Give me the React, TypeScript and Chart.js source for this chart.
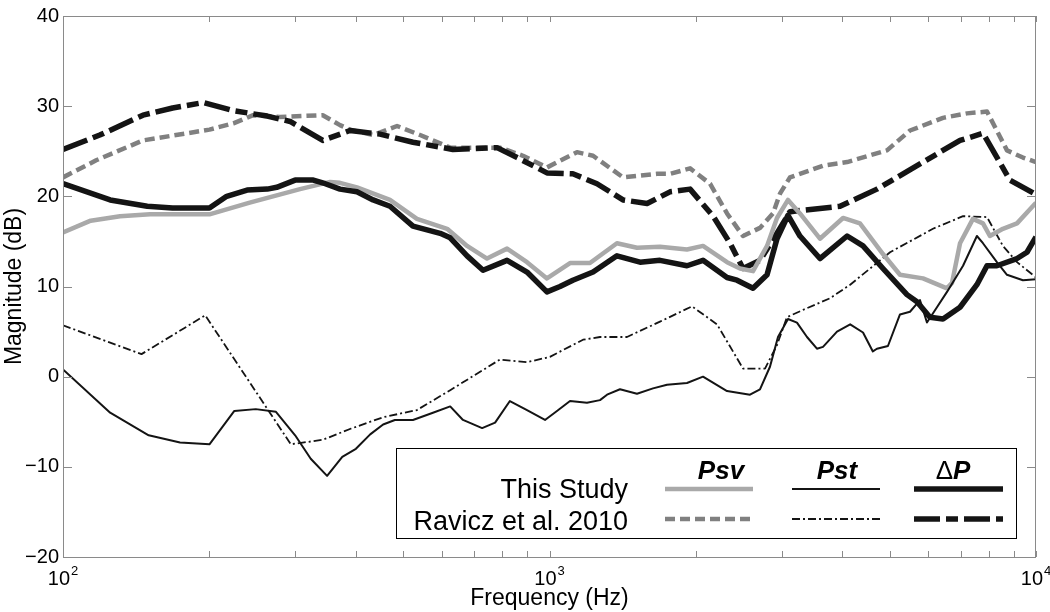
import { useEffect, useRef } from 'react';
import { Chart, registerables } from 'chart.js';

Chart.register(...registerables);

const FONT = "'Liberation Sans', Arial, Helvetica, sans-serif";

// ---- This Study ----
const psvFreq = [100, 114, 131, 151, 200, 242, 307, 354, 371, 402, 470, 534, 616, 677, 744, 818, 899, 988, 1102, 1211, 1376, 1513, 1687, 1917, 2068, 2317, 2464, 2620, 2800, 2935, 3092, 3272, 3597, 4012, 4346, 4847, 5253, 5858, 6562, 6720, 6980, 7420, 7780, 8040, 8550, 9140, 10000];
const psvVal = [16.0, 17.3, 17.8, 18.0, 18.0, 19.3, 20.8, 21.6, 21.5, 21.0, 19.6, 17.5, 16.4, 14.5, 13.1, 14.2, 12.7, 10.9, 12.6, 12.6, 14.8, 14.3, 14.4, 14.1, 14.5, 12.7, 12.0, 11.7, 14.5, 17.6, 19.6, 18.1, 15.3, 17.6, 17.0, 13.6, 11.3, 10.9, 9.8, 10.4, 14.8, 17.5, 17.0, 15.6, 16.4, 17.0, 19.3];

const pstFreq = [100, 125, 150, 174, 200, 225, 249, 274, 300, 323, 349, 375, 400, 428, 455, 481, 524, 576, 625, 664, 727, 773, 829, 899, 979, 1036, 1102, 1194, 1270, 1313, 1396, 1513, 1632, 1744, 1917, 2068, 2317, 2583, 2708, 2839, 2949, 3092, 3226, 3383, 3546, 3649, 3899, 4150, 4410, 4620, 4710, 4962, 5253, 5508, 5774, 5968, 6258, 6562, 7080, 7560, 7780, 8310, 8717, 9400, 10000];
const pstVal = [0.8, -4.0, -6.5, -7.3, -7.5, -3.8, -3.6, -3.9, -6.5, -9.1, -11.0, -8.9, -8.0, -6.4, -5.3, -4.8, -4.8, -4.0, -3.3, -4.8, -5.7, -5.1, -2.7, -3.7, -4.8, -3.8, -2.7, -2.9, -2.6, -2.0, -1.4, -1.9, -1.3, -0.9, -0.7, 0.0, -1.6, -2.0, -1.4, 1.1, 4.4, 6.4, 6.0, 4.4, 3.1, 3.3, 5.0, 5.8, 4.9, 2.8, 3.1, 3.4, 6.9, 7.2, 8.5, 6.0, 7.7, 9.4, 12.3, 15.6, 14.8, 12.7, 11.3, 10.7, 10.8];

const dpFreq = [100, 125, 149, 168, 200, 217, 239, 263, 275, 300, 327, 346, 371, 402, 434, 470, 524, 596, 625, 677, 730, 818, 899, 988, 1051, 1117, 1229, 1376, 1535, 1687, 1917, 2068, 2317, 2429, 2620, 2800, 2935, 3092, 3272, 3597, 4090, 4410, 4847, 5430, 5693, 6054, 6439, 6980, 7560, 7930, 8310, 9140, 9583, 10000];
const dpVal = [21.4, 19.6, 18.9, 18.7, 18.7, 20.0, 20.7, 20.8, 21.0, 21.8, 21.8, 21.4, 20.8, 20.5, 19.6, 18.9, 16.7, 15.9, 15.4, 13.4, 11.8, 12.9, 11.6, 9.4, 10.0, 10.7, 11.6, 13.4, 12.7, 12.9, 12.3, 12.9, 11.0, 10.7, 9.8, 11.3, 15.3, 17.9, 15.6, 13.1, 15.6, 14.5, 12.0, 9.1, 8.3, 6.6, 6.4, 7.7, 10.2, 12.3, 12.3, 13.1, 13.8, 15.5];

// ---- Ravicz et al. 2010 ----
const rPsvFreq = [100, 117, 146, 200, 224, 246, 279, 342, 371, 389, 434, 486, 542, 625, 791, 882, 988, 1139, 1229, 1416, 1663, 1769, 1945, 2138, 2317, 2499, 2708, 2880, 2977, 3121, 3649, 4090, 4940, 5508, 6439, 7212, 7930, 8717, 9400, 10000];
const rPsvVal = [22.1, 24.0, 26.2, 27.4, 28.1, 29.0, 28.8, 29.0, 27.9, 27.4, 26.8, 27.8, 26.8, 25.4, 25.4, 24.5, 23.2, 24.9, 24.5, 22.1, 22.5, 22.5, 23.1, 21.4, 18.1, 15.6, 16.5, 18.1, 20.3, 22.1, 23.4, 23.8, 25.1, 27.3, 28.7, 29.2, 29.4, 25.1, 24.3, 23.8];

const rPstFreq = [100, 145, 196, 294, 342, 389, 455, 534, 625, 791, 899, 1002, 1172, 1270, 1443, 1687, 1963, 2210, 2499, 2773, 2935, 3077, 3383, 3773, 4150, 5012, 6140, 7080, 7930, 8550, 9140, 10000];
const rPstVal = [5.7, 2.5, 6.8, -7.5, -7.0, -5.8, -4.5, -3.7, -1.5, 1.9, 1.6, 2.2, 4.1, 4.4, 4.4, 6.1, 7.8, 5.8, 0.9, 0.9, 3.5, 6.6, 7.6, 8.7, 10.2, 13.8, 16.4, 17.8, 17.7, 14.5, 12.7, 11.0];

const rDpFreq = [100, 119, 146, 168, 194, 224, 263, 293, 342, 389, 448, 524, 633, 780, 858, 988, 1117, 1252, 1416, 1587, 1769, 1945, 2169, 2350, 2499, 2708, 2935, 3121, 3955, 4710, 5774, 6980, 7780, 8840, 10000];
const rDpVal = [25.2, 26.8, 29.0, 29.8, 30.4, 29.5, 28.9, 28.3, 26.2, 27.3, 26.9, 26.0, 25.2, 25.4, 24.3, 22.6, 22.5, 21.4, 19.6, 19.2, 20.5, 20.8, 17.8, 14.8, 12.0, 12.9, 15.9, 18.3, 18.9, 20.8, 23.6, 26.2, 27.0, 21.8, 20.2];

// ---- axes / legend text ----
const xMajorTicks = [100, 1000, 10000];
const xMajorExponents = ['2', '3', '4'];
const yTickValues = [-20, -10, 0, 10, 20, 30, 40];
const xTitle = 'Frequency (Hz)';
const yTitle = 'Magnitude (dB)';
const legendRows = ['This Study', 'Ravicz et al. 2010'];
const legendCols = ['Psv', 'Pst', 'ΔP'];

const LIGHT_GRAY = '#a9a9a9';
const MID_GRAY = '#808080';
const BLACK = '#141414';

const styles = {
  psv: { color: LIGHT_GRAY, width: 4.5, dash: [] as number[] },
  pst: { color: BLACK, width: 2, dash: [] as number[] },
  dp: { color: BLACK, width: 5.5, dash: [] as number[] },
  rPsv: { color: MID_GRAY, width: 4.5, dash: [10, 5] },
  rPst: { color: BLACK, width: 1.8, dash: [8, 3, 2, 3] },
  rDp: { color: BLACK, width: 5.5, dash: [26, 6, 12, 6] },
};

export default function App() {
  const ref = useRef<HTMLCanvasElement>(null);

  useEffect(() => {
    document.body.style.margin = '0';
    const canvas = ref.current!;
    const toPts = (f: number[], v: number[]) => f.map((x, i) => ({ x, y: v[i] }));
    const ds = (f: number[], v: number[], s: any) => ({
      data: toPts(f, v),
      borderColor: s.color,
      borderWidth: s.width,
      borderDash: s.dash,
      pointRadius: 0,
      fill: false,
      tension: 0,
      borderCapStyle: 'butt',
      borderJoinStyle: 'round',
    });

    const framePlugin = {
      id: 'frame',
      afterDraw(chart: any) {
        const { ctx, chartArea: a, scales } = chart;
        const xs = scales.x;
        const ys = scales.y;
        ctx.save();
        // box
        ctx.strokeStyle = '#8a8a8a';
        ctx.lineWidth = 1;
        ctx.setLineDash([]);
        ctx.strokeRect(a.left + 0.5, a.top + 0.5, a.right - a.left - 1, a.bottom - a.top);
        // x ticks (major and minor), inward on bottom and top
        const xt: number[] = [];
        for (const dec of [100, 1000]) for (let m = 1; m <= 9; m++) xt.push(dec * m);
        xt.push(10000);
        ctx.beginPath();
        for (const v of xt) {
          const px = Math.round(xs.getPixelForValue(v)) + 0.5;
          ctx.moveTo(px, a.bottom);
          ctx.lineTo(px, a.bottom - 6);
          ctx.moveTo(px, a.top);
          ctx.lineTo(px, a.top + 6);
        }
        for (const v of yTickValues) {
          const py = Math.round(ys.getPixelForValue(v)) + 0.5;
          ctx.moveTo(a.left, py);
          ctx.lineTo(a.left + 9, py);
          ctx.moveTo(a.right, py);
          ctx.lineTo(a.right - 9, py);
        }
        ctx.stroke();

        // x tick labels 10^n, whole label centred on the tick
        ctx.fillStyle = '#000';
        ctx.textBaseline = 'alphabetic';
        ctx.textAlign = 'left';
        xMajorTicks.forEach((v, i) => {
          const px = xs.getPixelForValue(v);
          ctx.font = `20px ${FONT}`;
          const w = ctx.measureText('10').width;
          ctx.font = `13px ${FONT}`;
          const we = ctx.measureText(xMajorExponents[i]).width;
          const x0 = px - (w + 1 + we) / 2;
          ctx.font = `20px ${FONT}`;
          ctx.fillText('10', x0, 585);
          ctx.font = `13px ${FONT}`;
          ctx.fillText(xMajorExponents[i], x0 + w + 1, 575);
        });

        // legend
        const L = 396, T = 448, R = 1016, B = 538;
        ctx.fillStyle = '#fff';
        ctx.fillRect(L, T, R - L, B - T);
        ctx.strokeStyle = '#000';
        ctx.lineWidth = 1;
        ctx.strokeRect(L + 0.5, T + 0.5, R - L, B - T);

        ctx.fillStyle = '#000';
        ctx.font = `27px ${FONT}`;
        ctx.textAlign = 'right';
        ctx.textBaseline = 'alphabetic';
        ctx.fillText(legendRows[0], 628, 498);
        ctx.fillText(legendRows[1], 628, 530);

        // headers
        ctx.font = `italic bold 26px ${FONT}`;
        ctx.textAlign = 'center';
        ctx.fillText(legendCols[0], 721, 479);
        ctx.fillText(legendCols[1], 837, 479);
        // ΔP: upright delta + bold italic P
        const delta = legendCols[2].charAt(0);
        const pChar = legendCols[2].slice(1);
        ctx.font = `26px ${FONT}`;
        const wd = ctx.measureText(delta).width;
        ctx.font = `italic bold 26px ${FONT}`;
        const wp = ctx.measureText(pChar).width;
        const startX = 953 - (wd + wp) / 2;
        ctx.textAlign = 'left';
        ctx.font = `26px ${FONT}`;
        ctx.fillText(delta, startX, 479);
        ctx.font = `italic bold 26px ${FONT}`;
        ctx.fillText(pChar, startX + wd, 479);

        const sample = (x0: number, x1: number, y: number, s: any) => {
          ctx.beginPath();
          ctx.strokeStyle = s.color;
          ctx.lineWidth = s.width;
          ctx.setLineDash(s.dash);
          ctx.lineCap = 'butt';
          ctx.moveTo(x0, y);
          ctx.lineTo(x1, y);
          ctx.stroke();
        };
        sample(665, 753, 489, styles.psv);
        sample(792, 880, 489, styles.pst);
        sample(914, 1003, 489, styles.dp);
        sample(665, 753, 519, styles.rPsv);
        sample(792, 880, 519, styles.rPst);
        sample(914, 1003, 519, styles.rDp);
        ctx.restore();
      },
    };

    Chart.defaults.font.family = FONT;
    Chart.defaults.color = '#000';

    const chart = new Chart(canvas, {
      type: 'line',
      data: {
        datasets: [
          ds(dpFreq, dpVal, styles.dp),
          ds(pstFreq, pstVal, styles.pst),
          ds(psvFreq, psvVal, styles.psv),
          ds(rDpFreq, rDpVal, styles.rDp),
          ds(rPstFreq, rPstVal, styles.rPst),
          ds(rPsvFreq, rPsvVal, styles.rPsv),
        ] as any,
      },
      options: {
        responsive: false,
        animation: false,
        devicePixelRatio: 1,
        events: [],
        layout: { padding: { top: 6, right: 14, left: 0, bottom: 0 } },
        plugins: { legend: { display: false }, tooltip: { enabled: false } },
        scales: {
          x: {
            type: 'logarithmic',
            min: 100,
            max: 10000,
            grid: { display: false, drawTicks: false },
            border: { display: false },
            ticks: { display: false },
            title: {
              display: true,
              text: xTitle,
              font: { size: 23, family: FONT },
              color: '#000',
              padding: { top: 0, bottom: 0 },
            },
            afterFit: (s: any) => { s.height = 55; },
          },
          y: {
            min: -20,
            max: 40,
            grid: { display: false, drawTicks: false },
            border: { display: false },
            ticks: {
              stepSize: 10,
              padding: 4,
              font: { size: 20, family: FONT },
              color: '#000',
              callback: (v: any) => String(v).replace('-', '\u2212'),
            },
            title: {
              display: true,
              text: yTitle,
              font: { size: 23, family: FONT },
              color: '#000',
              padding: { top: 1, bottom: 0 },
            },
            afterFit: (s: any) => { s.width = 63; },
          },
        },
      } as any,
      plugins: [framePlugin],
    });

    return () => chart.destroy();
  }, []);

  return (
    <div style={{ width: 1050, height: 612 }}>
      <canvas ref={ref} width={1050} height={612} style={{ display: 'block' }} />
    </div>
  );
}
